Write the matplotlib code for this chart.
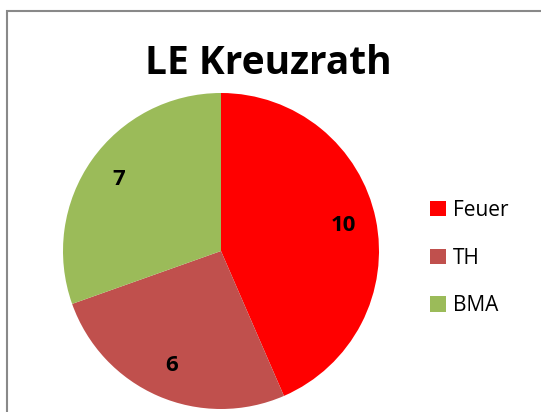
import matplotlib
matplotlib.use("Agg")
import matplotlib.pyplot as plt
from matplotlib.patches import Rectangle

categories = ["Feuer", "TH", "BMA"]
values = [10, 6, 7]
colors = ["#FF0000", "#C0504D", "#9BBB59"]
title = "LE Kreuzrath"

W, H = 541, 412
fig = plt.figure(figsize=(W / 100, H / 100), dpi=100)
fig.patch.set_facecolor("white")

# outer chart border (extends past right/bottom edges)
fig.patches.append(Rectangle((7 / W, -0.05), 1.1, (H - 11) / H + 0.05,
                             transform=fig.transFigure, fill=False,
                             edgecolor="#898989", linewidth=1.5))

cx, cy, r = 221, 251, 158
ax = fig.add_axes([(cx - r) / W, (H - cy - r) / H, 2 * r / W, 2 * r / H])
wedges, texts, autotexts = ax.pie(
    values, colors=colors, startangle=90, counterclock=False,
    autopct=lambda p: f"{round(p * sum(values) / 100):d}",
    pctdistance=0.79, wedgeprops=dict(linewidth=0),
    textprops=dict(fontsize=16, fontweight="bold", family="Open Sans"))
ax.set_xlim(-1, 1)
ax.set_ylim(-1, 1)
ax.set_aspect("equal")
ax.axis("off")

fig.text(268 / W, (H - 64) / H, title, ha="center", va="center",
         fontsize=28, fontweight="bold", family="Open Sans")

leg = fig.legend(wedges, categories, loc="center left",
                 bbox_to_anchor=(430 / W, (H - 258) / H), frameon=False,
                 prop=dict(family="Open Sans", size=15),
                 handlelength=0.75, handleheight=0.75, handletextpad=0.35,
                 labelspacing=1.28, borderpad=0, borderaxespad=0)

fig.savefig("out.png", dpi=100)
